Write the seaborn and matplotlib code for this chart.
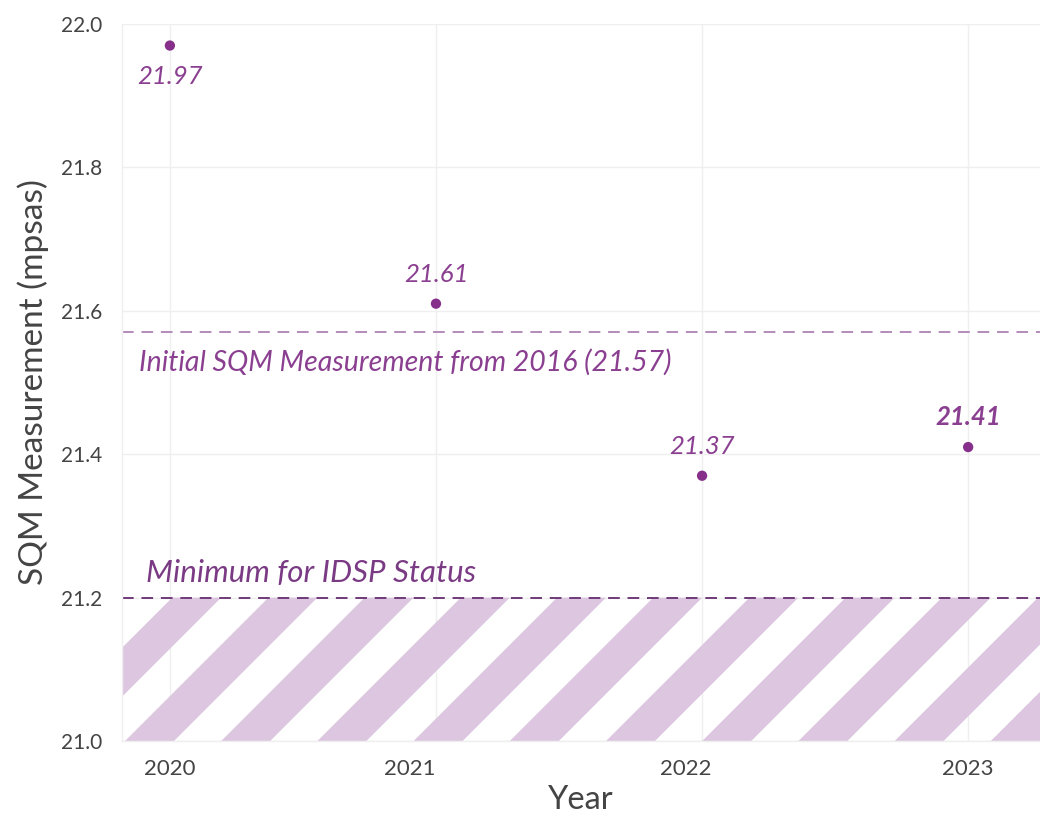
import matplotlib
matplotlib.use("Agg")
import matplotlib.pyplot as plt
import matplotlib.transforms as mtransforms
from matplotlib.patches import Polygon
import seaborn as sns
import pandas as pd

# ---- data ----
years = [2020.0, 2021.0, 2022.0, 2023.0]
sqm = [21.97, 21.61, 21.37, 21.41]
value_labels = ["21.97", "21.61", "21.37", "21.41"]
tick_label_pos = [2020.0, 2020.9, 2021.94, 2023.0]
tick_labels = ["2020", "2021", "2022", "2023"]
initial_2016 = 21.57
idsp_minimum = 21.2

df = pd.DataFrame({"Year": years, "SQM": sqm})

sns.set_theme(style="whitegrid")
plt.rcParams["font.family"] = ["Lato", "DejaVu Sans"]

PURPLE = "#86308c"
LABEL_PURPLE = "#8a3f90"
STRIPE = "#dcc6e0"

fig = plt.figure(figsize=(10.4, 8.18), dpi=100)
ax = fig.add_axes([0.1173, 0.0941, 0.8827, 0.8765])

ax.set_xlim(2019.82, 2023.27)
ax.set_ylim(21.0, 22.0)

# diagonal stripe band below IDSP minimum (pixel-space pattern)
ax_w_px = fig.get_figwidth() * fig.dpi * 0.8827
ax_h_px = fig.get_figheight() * fig.dpi * 0.8765
band_h = (idsp_minimum - 21.0) / (22.0 - 21.0) * ax_h_px
px_tr = mtransforms.Affine2D().scale(1.0 / ax_w_px, 1.0 / ax_h_px) + ax.transAxes
period, width, start = 96.2, 49.0, 3.0
k = -3
while start + k * period < ax_w_px + 10:
    b = start + k * period
    poly = Polygon([(b, 0), (b + width, 0), (b + width + band_h, band_h), (b + band_h, band_h)],
                   closed=True, facecolor=STRIPE, edgecolor="none", transform=px_tr, zorder=1)
    ax.add_patch(poly)
    k += 1

# reference lines
ax.axhline(initial_2016, color="#b48bbb", lw=1.4, ls=(0, (6, 4)), zorder=2)
ax.axhline(idsp_minimum, color="#6f3a78", lw=1.4, ls=(0, (6, 4)), zorder=2)

sns.scatterplot(data=df, x="Year", y="SQM", ax=ax, color=PURPLE, s=55,
                edgecolor="none", zorder=5, legend=False)

# value labels
for i, (x, y, t) in enumerate(zip(years, sqm, value_labels)):
    if i == 0:
        off, va = -14, "top"
    else:
        off, va = 13, "bottom"
    ax.annotate(t, (x, y), xytext=(0, off), textcoords="offset points",
                ha="center", va=va, fontsize=18.5, fontstyle="italic",
                fontweight="bold" if i == 3 else "normal", color=LABEL_PURPLE)

ax.annotate("Initial SQM Measurement from 2016 (21.57)", (ax.get_xlim()[0], initial_2016),
            xytext=(12, -12), textcoords="offset points", ha="left", va="top",
            fontsize=20.5, fontstyle="italic", color=LABEL_PURPLE)
ax.annotate("Minimum for IDSP Status", (ax.get_xlim()[0], idsp_minimum),
            xytext=(17, 8), textcoords="offset points", ha="left", va="bottom",
            fontsize=22.5, fontstyle="italic", color="#7a3a84")

# axes / ticks
ax.xaxis.remove_overlapping_locs = False
ax.set_xticks(years)
ax.set_xticklabels([""] * len(years))
ax.set_xticks(tick_label_pos, minor=True)
ax.set_xticklabels(tick_labels, minor=True)
ax.tick_params(axis="x", which="both", length=0, pad=13, labelsize=16, labelcolor="#444444")
ax.set_yticks([21.0, 21.2, 21.4, 21.6, 21.8, 22.0])
ax.set_yticklabels(["21.0", "21.2", "21.4", "21.6", "21.8", "22.0"])
ax.tick_params(axis="y", length=0, pad=14, labelsize=15, labelcolor="#444444")
ax.grid(True, which="major", color="#efefef", lw=1)
ax.grid(False, which="minor")
for side in ["top", "right"]:
    ax.spines[side].set_visible(False)
for side in ["left", "bottom"]:
    ax.spines[side].set_color("#efefef")
    ax.spines[side].set_linewidth(1)

ax.set_xlabel("Year", fontsize=23.5, color="#444444", labelpad=4)
ax.set_ylabel("SQM Measurement (mpsas)", fontsize=24, color="#444444", labelpad=9)

fig.savefig("out.png", dpi=100)
